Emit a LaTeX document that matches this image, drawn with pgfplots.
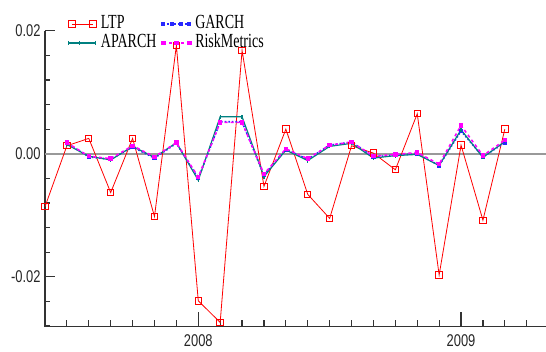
\documentclass[border=0pt]{standalone}
\usepackage{fontspec}
\setmainfont{Liberation Serif}[FakeStretch=0.7]
\newfontfamily\ticksf{Liberation Sans}[FakeStretch=0.76]
\usepackage{pgfplots}
\pgfplotsset{compat=1.18}
\definecolor{ltpred}{RGB}{255,0,0}
\definecolor{garchblue}{RGB}{40,40,255}
\definecolor{aparchteal}{RGB}{0,128,128}
\definecolor{rmmag}{RGB}{255,0,255}
\pgfplotsset{
  leg two/.style={legend image code/.code={\draw[##1] plot coordinates {(0pt,0pt) (21pt,0pt)};}},
  leg aparch/.style={legend image code/.code={\draw[##1] plot coordinates {(-3pt,0pt) (8pt,0pt) (24pt,0pt)};}},
  leg four/.style={legend image code/.code={\draw[##1] plot coordinates {(0pt,0pt) (9pt,0pt) (18pt,0pt) (26pt,0pt)};}},
  leg three/.style={legend image code/.code={\draw[##1] plot coordinates {(0pt,0pt) (13pt,0pt) (26pt,0pt)};}},
}
\begin{document}
\begin{tikzpicture}[x=1pt,y=1pt]
\useasboundingbox (0,0) rectangle (546,352);
\begin{axis}[
  at={(45pt,25.3pt)}, anchor=south west,
  scale only axis, width=501pt, height=296pt,
  xmin=-7, xmax=15.88, ymin=-0.0281, ymax=0.02,
  scaled y ticks=false,
  axis x line=bottom, axis y line=left,
  axis line style={-, line width=1.3pt, black!80},
  tick align=inside,
  tick style={line width=1.2pt, black!80},
  xtick={0,12}, xticklabels={2008,2009},
  minor xtick={-6,-5,-4,-3,-2,-1,1,2,3,4,5,6,7,8,9,10,11,13,14,15},
  ytick={-0.02,0,0.02}, yticklabels={{-0.02},{0.00},{0.02}},
  minor ytick={-0.028,-0.024,-0.016,-0.012,-0.008,-0.004,0.004,0.008,0.012,0.016},
  major x tick style={/pgfplots/major tick length=15pt},
  minor x tick style={/pgfplots/minor tick length=7pt},
  major y tick style={/pgfplots/major tick length=10pt},
  minor y tick style={/pgfplots/minor tick length=5pt},
  ticklabel style={font=\ticksf\fontsize{17}{19}\selectfont, text=black!85},
  xticklabel style={yshift=-4pt},
  yticklabel style={xshift=-1pt},
  clip=false,
  legend columns=2,
  legend style={draw=none, fill=none, at={(0.046,1.052)}, anchor=north west,
    font=\fontsize{20}{20}\selectfont, inner sep=0pt,
    nodes={inner sep=0.5pt, text height=13pt, text depth=3pt},
    /tikz/every odd column/.append style={column sep=4pt},
    /tikz/every even column/.append style={column sep=5pt},
    row sep=2pt},
  legend cell align=left,
]
\addplot[gray!80, line width=1.6pt, forget plot] coordinates {(-7,0) (15.88,0)};
\addplot[ltpred, line width=0.8pt, mark=square, mark size=3.2pt,
  mark options={line width=1pt}, leg two]
  coordinates {
  (-7,-0.0086) (-6,0.0013) (-5,0.0025) (-4,-0.0063) (-3,0.0025) (-2,-0.0102)
  (-1,0.0176) (0,-0.0239) (1,-0.0274) (2,0.0168) (3,-0.0053) (4,0.0040)
  (5,-0.0066) (6,-0.0105) (7,0.0013) (8,0.0001) (9,-0.0026) (10,0.0065)
  (11,-0.0197) (12,0.0014) (13,-0.0108) (14,0.0040)};
\addlegendentry{LTP}
\addplot[garchblue, line width=1.6pt, dotted, mark=square*, mark size=1.3pt,
  mark options={solid}, leg four]
  coordinates {
  (-6,0.0017) (-5,-0.0005) (-4,-0.0009) (-3,0.0011) (-2,-0.0007) (-1,0.0017)
  (0,-0.0040) (1,0.0052) (2,0.0052) (3,-0.0035) (4,0.0007) (5,-0.0009)
  (6,0.0014) (7,0.0019) (8,-0.0005) (9,-0.0002) (10,0.0000) (11,-0.0019)
  (12,0.0037) (13,-0.0005) (14,0.0018)};
\addlegendentry{GARCH}
\addplot[aparchteal, line width=1.2pt, mark=|, mark size=2pt, leg aparch]
  coordinates {
  (-6,0.0015) (-5,-0.0004) (-4,-0.0010) (-3,0.0012) (-2,-0.0006) (-1,0.0018)
  (0,-0.0043) (1,0.0060) (2,0.0060) (3,-0.0037) (4,0.0006) (5,-0.0011)
  (6,0.0012) (7,0.0017) (8,-0.0007) (9,-0.0003) (10,-0.0001) (11,-0.0019)
  (12,0.0039) (13,-0.0006) (14,0.0020)};
\addlegendentry{APARCH}
\addplot[rmmag, line width=1.6pt, dash pattern=on 3pt off 3pt, mark=square*, mark size=1.4pt,
  mark options={solid}, leg three]
  coordinates {
  (-6,0.0018) (-5,-0.0004) (-4,-0.0008) (-3,0.0013) (-2,-0.0005) (-1,0.0018)
  (0,-0.0038) (1,0.0051) (2,0.0051) (3,-0.0033) (4,0.0008) (5,-0.0008)
  (6,0.0014) (7,0.0019) (8,-0.0004) (9,-0.0001) (10,0.0002) (11,-0.0017)
  (12,0.0046) (13,-0.0003) (14,0.0022)};
\addlegendentry{RiskMetrics}
\end{axis}
\end{tikzpicture}
\end{document}
